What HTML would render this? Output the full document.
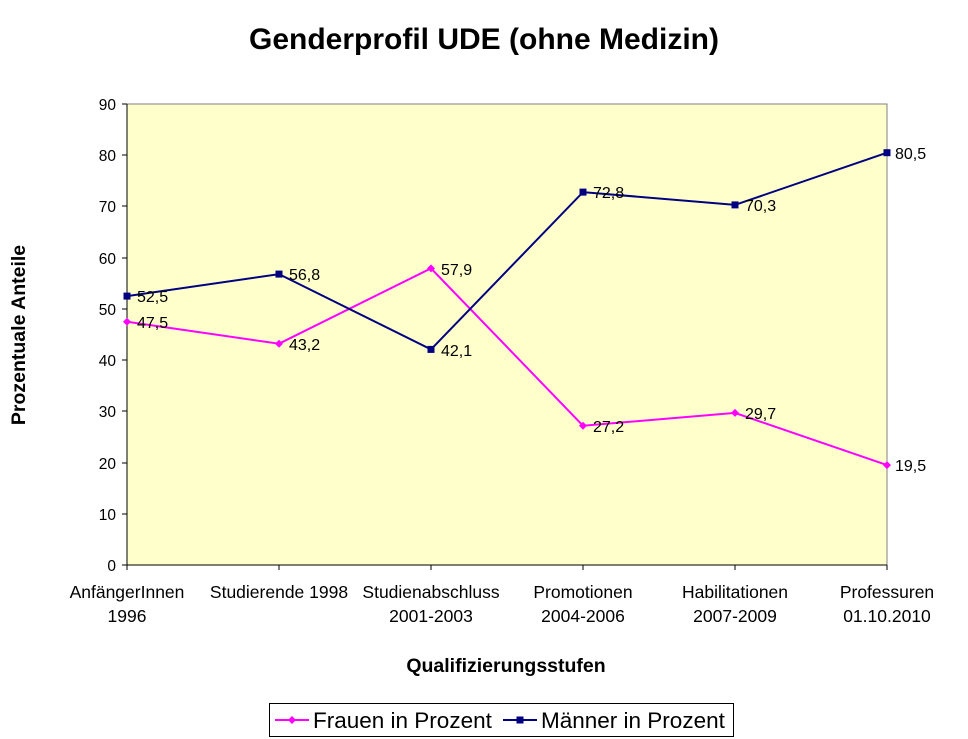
<!DOCTYPE html>
<html><head><meta charset="utf-8"><style>
body{margin:0;background:#fff;}
svg{display:block;font-family:"Liberation Sans",Arial,sans-serif;}
</style></head><body>
<svg width="968" height="739" viewBox="0 0 968 739">
<text x="484" y="49" font-size="30" font-weight="bold" text-anchor="middle">Genderprofil UDE (ohne Medizin)</text>
<rect x="127" y="104" width="760" height="461" fill="#FFFFCC" stroke="#808080" stroke-width="1"/>
<line x1="127" y1="104" x2="127" y2="565" stroke="#000"/>
<line x1="127" y1="565" x2="887" y2="565" stroke="#000"/>
<g font-size="15.5" text-anchor="end" fill="#000">
<text x="116" y="110">90</text><text x="116" y="161">80</text><text x="116" y="212">70</text>
<text x="116" y="264">60</text><text x="116" y="315">50</text><text x="116" y="366">40</text>
<text x="116" y="417">30</text><text x="116" y="469">20</text><text x="116" y="520">10</text>
<text x="116" y="571">0</text>
</g>
<g stroke="#000">
<line x1="122" y1="104" x2="127" y2="104"/><line x1="122" y1="155" x2="127" y2="155"/>
<line x1="122" y1="206" x2="127" y2="206"/><line x1="122" y1="258" x2="127" y2="258"/>
<line x1="122" y1="309" x2="127" y2="309"/><line x1="122" y1="360" x2="127" y2="360"/>
<line x1="122" y1="411" x2="127" y2="411"/><line x1="122" y1="463" x2="127" y2="463"/>
<line x1="122" y1="514" x2="127" y2="514"/><line x1="122" y1="565" x2="127" y2="565"/>
<line x1="279" y1="565" x2="279" y2="570"/><line x1="431" y1="565" x2="431" y2="570"/>
<line x1="583" y1="565" x2="583" y2="570"/><line x1="735" y1="565" x2="735" y2="570"/>
<line x1="887" y1="565" x2="887" y2="570"/><line x1="127" y1="565" x2="127" y2="570"/>
</g>
<g font-size="17.5" text-anchor="middle">
<text x="127" y="598">AnfängerInnen</text><text x="127" y="622">1996</text>
<text x="279" y="598">Studierende 1998</text>
<text x="431" y="598">Studienabschluss</text><text x="431" y="622">2001-2003</text>
<text x="583" y="598">Promotionen</text><text x="583" y="622">2004-2006</text>
<text x="735" y="598">Habilitationen</text><text x="735" y="622">2007-2009</text>
<text x="887" y="598">Professuren</text><text x="887" y="622">01.10.2010</text>
</g>
<text x="506" y="672" font-size="19.5" font-weight="bold" text-anchor="middle">Qualifizierungsstufen</text>
<text transform="translate(25,335) rotate(-90)" font-size="19.5" font-weight="bold" text-anchor="middle">Prozentuale Anteile</text>
<polyline fill="none" stroke="#FF00FF" stroke-width="2" points="127,321.7 279,343.7 431,268.4 583,425.7 735,412.9 887,465.1"/>
<polyline fill="none" stroke="#000080" stroke-width="2" points="127,296.1 279,274.1 431,349.4 583,192.1 735,204.9 887,152.7"/>
<g fill="#FF00FF">
<path d="M127 317.7l4 4-4 4-4-4z"/><path d="M279 339.7l4 4-4 4-4-4z"/><path d="M431 264.4l4 4-4 4-4-4z"/>
<path d="M583 421.7l4 4-4 4-4-4z"/><path d="M735 408.9l4 4-4 4-4-4z"/><path d="M887 461.1l4 4-4 4-4-4z"/>
</g>
<g fill="#000080">
<rect x="123.5" y="292.6" width="7" height="7"/><rect x="275.5" y="270.6" width="7" height="7"/>
<rect x="427.5" y="345.9" width="7" height="7"/><rect x="579.5" y="188.6" width="7" height="7"/>
<rect x="731.5" y="201.4" width="7" height="7"/><rect x="883.5" y="149.2" width="7" height="7"/>
</g>
<g font-size="16">
<text x="137" y="328">47,5</text><text x="289" y="350">43,2</text><text x="441" y="275">57,9</text>
<text x="593" y="432">27,2</text><text x="745" y="419">29,7</text><text x="895" y="471">19,5</text>
<text x="137" y="302">52,5</text><text x="289" y="280">56,8</text><text x="441" y="356">42,1</text>
<text x="593" y="198">72,8</text><text x="745" y="211">70,3</text><text x="895" y="159">80,5</text>
</g>
<rect x="269.5" y="703.5" width="464" height="33" fill="#fff" stroke="#000"/>
<line x1="275" y1="720" x2="309" y2="720" stroke="#FF00FF" stroke-width="2"/>
<path d="M292 716l4 4-4 4-4-4z" fill="#FF00FF"/>
<text x="313" y="728" font-size="22.5">Frauen in Prozent</text>
<line x1="503" y1="720" x2="537" y2="720" stroke="#000080" stroke-width="2"/>
<rect x="516.5" y="716.5" width="7" height="7" fill="#000080"/>
<text x="541" y="728" font-size="22.5">Männer in Prozent</text>
</svg>
</body></html>
